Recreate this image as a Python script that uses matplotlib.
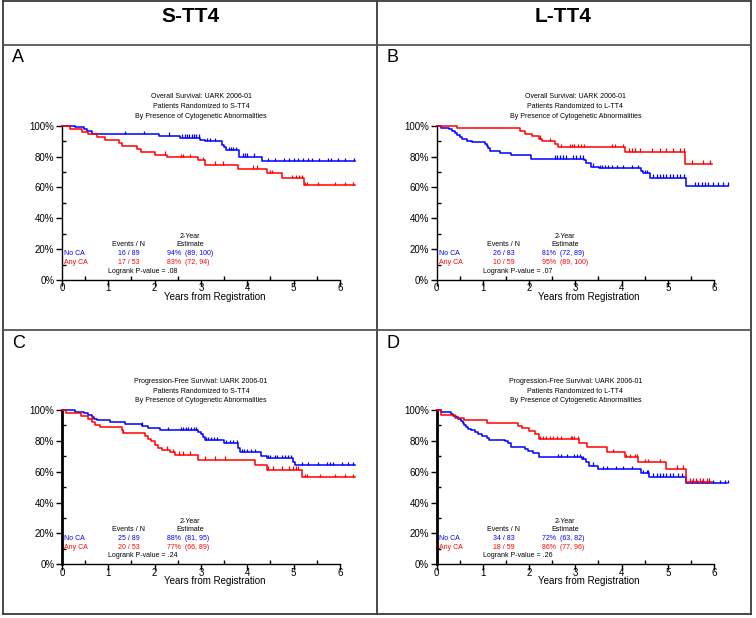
import numpy as np
import matplotlib
matplotlib.use("Agg")
import matplotlib.pyplot as plt
from matplotlib.lines import Line2D
from matplotlib.ticker import FixedLocator

plt.rcParams['font.family'] = ['Liberation Sans', 'DejaVu Sans']

W, H = 756, 618

# ---------------- data ----------------
column_titles = ["S-TT4", "L-TT4"]
panel_letters = ["A", "B", "C", "D"]
endpoint_titles = ["Overall Survival: UARK 2006-01", "Overall Survival: UARK 2006-01",
                   "Progression-Free Survival: UARK 2006-01", "Progression-Free Survival: UARK 2006-01"]
arm_titles = ["Patients Randomized to S-TT4", "Patients Randomized to L-TT4",
              "Patients Randomized to S-TT4", "Patients Randomized to L-TT4"]
group_names = ["No CA", "Any CA"]
events_n = [["16 / 89", "17 / 53"], ["26 / 83", "10 / 59"],
            ["25 / 89", "20 / 53"], ["34 / 83", "18 / 59"]]
two_year = [["94%  (89, 100)", "83%  (72, 94)"], ["81%  (72, 89)", "95%  (89, 100)"],
            ["88%  (81, 95)", "77%  (66, 89)"], ["72%  (63, 82)", "86%  (77, 96)"]]
logrank_p = [".08", ".07", ".24", ".26"]

# Panel A (OS, S-TT4)
a_noca_t = [0.29, 0.48, 0.55, 0.64, 2.10, 2.55, 2.98, 3.08, 3.45, 3.50, 3.55, 3.82, 4.31]
a_noca_s = [98.9, 97.8, 96.6, 94.5, 93.4, 92.2, 90.9, 89.8, 87.6, 86.0, 84.2, 80.0, 77.0]
a_noca_end = 6.33
a_noca_c = [1.36, 1.78, 2.30, 2.60, 2.65, 2.70, 2.75, 2.80, 2.85, 2.90, 2.95, 3.12, 3.20, 3.30,
            3.60, 3.65, 3.70, 3.75, 3.90, 3.95, 4.00, 4.15, 4.45, 4.60, 4.80, 4.90, 5.00, 5.10,
            5.20, 5.30, 5.40, 5.55, 5.75, 5.80, 5.95, 6.10, 6.30]
a_anyca_t = [0.17, 0.43, 0.57, 0.75, 0.93, 1.22, 1.29, 1.62, 1.70, 2.00, 2.26, 2.93, 3.09,
             3.80, 4.42, 4.74, 5.23]
a_anyca_s = [98.1, 96.2, 94.3, 92.5, 90.6, 88.7, 86.8, 84.9, 83.0, 81.1, 79.4, 77.5, 74.7,
             72.1, 69.2, 66.0, 61.4]
a_anyca_end = 6.33
a_anyca_c = [2.22, 2.57, 2.62, 2.76, 3.05, 3.30, 3.48, 4.13, 4.20, 4.49, 4.54, 4.96, 5.05, 5.12,
             5.17, 5.25, 5.28, 5.53, 5.90, 6.10, 6.29]

# Panel B (OS, L-TT4)
b_noca_t = [0.10, 0.27, 0.33, 0.40, 0.45, 0.50, 0.55, 0.65, 0.76, 1.05, 1.08, 1.12, 1.15, 1.38,
            1.60, 2.03, 3.19, 3.24, 3.33, 3.52, 4.43, 4.47, 4.61, 5.40]
b_noca_s = [98.8, 97.6, 96.4, 95.2, 94.0, 92.8, 91.6, 90.4, 89.2, 88.0, 86.7, 85.5, 83.4, 82.4,
            81.2, 78.7, 77.5, 75.8, 73.5, 72.4, 70.4, 69.2, 66.4, 61.0]
b_noca_end = 6.31
b_noca_c = [2.56, 2.60, 2.67, 2.74, 2.80, 2.95, 3.02, 3.10, 3.17, 3.39, 3.53, 3.57, 3.64, 3.71,
            3.79, 3.90, 4.04, 4.22, 4.36, 4.50, 4.55, 4.69, 4.76, 4.83, 4.90, 4.97, 5.04, 5.12,
            5.19, 5.26, 5.34, 5.59, 5.66, 5.73, 5.80, 5.87, 5.98, 6.09, 6.20, 6.31]
b_anyca_t = [0.43, 1.80, 1.90, 2.07, 2.22, 2.28, 2.55, 2.63, 4.07, 5.37]
b_anyca_s = [98.3, 96.6, 94.9, 93.2, 91.5, 89.8, 88.0, 86.1, 83.2, 75.5]
b_anyca_end = 5.95
b_anyca_c = [2.24, 2.45, 2.70, 2.88, 2.92, 2.96, 3.06, 3.12, 3.19, 3.79, 3.86, 4.04, 4.15, 4.22,
             4.29, 4.40, 4.65, 4.83, 4.97, 5.12, 5.26, 5.35, 5.52, 5.77, 5.91]

# Panel C (PFS, S-TT4)
c_noca_t = [0.28, 0.48, 0.57, 0.64, 0.70, 0.76, 1.04, 1.36, 1.73, 1.86, 2.12, 2.94, 3.00, 3.05,
            3.09, 3.50, 3.80, 3.84, 4.30, 4.43, 4.98, 5.02]
c_noca_s = [98.9, 97.8, 96.6, 95.5, 94.4, 93.3, 92.1, 91.0, 89.9, 88.4, 86.9, 85.5, 84.2, 82.5,
            80.4, 78.3, 75.5, 72.8, 70.5, 68.8, 66.6, 64.4]
c_noca_end = 6.33
c_noca_c = [1.73, 2.29, 2.57, 2.62, 2.68, 2.73, 2.79, 2.85, 2.90, 3.10, 3.15, 3.22, 3.29, 3.34,
            3.55, 3.62, 3.70, 3.77, 3.88, 3.92, 4.00, 4.09, 4.17, 4.45, 4.50, 4.60, 4.65, 4.74,
            4.81, 4.88, 4.94, 5.17, 5.32, 5.53, 5.71, 5.79, 5.86, 6.04, 6.18, 6.29]
c_anyca_t = [0.08, 0.42, 0.57, 0.65, 0.71, 0.82, 1.29, 1.32, 1.79, 1.86, 1.93, 2.00, 2.08, 2.15,
             2.33, 2.44, 2.94, 4.17, 4.42, 5.17]
c_anyca_s = [98.1, 96.2, 94.3, 92.4, 90.6, 89.0, 87.0, 85.1, 83.0, 81.2, 79.6, 77.5, 75.4, 74.3,
             72.6, 71.0, 67.8, 64.5, 61.2, 56.5]
c_anyca_end = 6.32
c_anyca_c = [0.64, 1.32, 2.26, 2.40, 2.52, 2.62, 2.76, 3.09, 3.30, 3.52, 4.45, 4.56, 4.74, 4.90,
             4.98, 5.06, 5.10, 5.24, 5.28, 5.57, 5.89, 6.10, 6.29]

# Panel D (PFS, L-TT4)
d_noca_t = [0.10, 0.30, 0.36, 0.42, 0.47, 0.52, 0.56, 0.60, 0.64, 0.68, 0.74, 0.82, 0.90, 0.98,
            1.08, 1.14, 1.48, 1.55, 1.60, 1.90, 1.98, 2.08, 2.22, 3.15, 3.22, 3.30, 3.50, 4.43,
            4.60, 5.40]
d_noca_s = [98.8, 97.6, 96.4, 95.2, 94.0, 92.8, 91.6, 90.4, 89.2, 88.0, 86.8, 85.6, 84.4, 83.2,
            82.0, 80.8, 79.6, 78.4, 76.0, 74.6, 73.3, 72.0, 69.6, 68.2, 66.2, 64.0, 61.6, 59.0,
            56.7, 52.7]
d_noca_end = 6.28
d_noca_c = [2.63, 2.70, 2.81, 2.96, 3.03, 3.10, 3.17, 3.39, 3.60, 3.68, 3.89, 4.04, 4.22, 4.47,
            4.54, 4.58, 4.69, 4.76, 4.83, 4.90, 4.97, 5.05, 5.12, 5.23, 5.30, 5.52, 5.63, 5.73,
            5.84, 5.98, 6.13, 6.24, 6.31]
d_anyca_t = [0.10, 0.40, 0.58, 1.08, 1.75, 1.85, 2.00, 2.12, 2.22, 3.08, 3.25, 3.68, 4.07, 4.35,
             4.97, 5.40]
d_anyca_s = [96.6, 94.9, 93.2, 91.5, 89.8, 88.1, 86.4, 84.7, 81.2, 78.5, 76.0, 72.7, 69.5, 66.2,
             62.0, 53.5]
d_anyca_end = 5.95
d_anyca_c = [2.24, 2.30, 2.37, 2.45, 2.52, 2.60, 2.70, 2.90, 2.93, 2.96, 3.06, 3.82, 4.10, 4.18,
             4.29, 4.33, 4.50, 4.58, 4.83, 5.19, 5.33, 5.48, 5.55, 5.62, 5.70, 5.77, 5.84, 5.90]

curves = [
    [(a_noca_t, a_noca_s, a_noca_end, a_noca_c), (a_anyca_t, a_anyca_s, a_anyca_end, a_anyca_c)],
    [(b_noca_t, b_noca_s, b_noca_end, b_noca_c), (b_anyca_t, b_anyca_s, b_anyca_end, b_anyca_c)],
    [(c_noca_t, c_noca_s, c_noca_end, c_noca_c), (c_anyca_t, c_anyca_s, c_anyca_end, c_anyca_c)],
    [(d_noca_t, d_noca_s, d_noca_end, d_noca_c), (d_anyca_t, d_anyca_s, d_anyca_end, d_anyca_c)],
]
colors = ["#0000ff", "#ff0000"]
x_ticks = [0, 1, 2, 3, 4, 5, 6]
y_ticks = [0, 20, 40, 60, 80, 100]

# ---------------- layout ----------------
fig = plt.figure(figsize=(W / 100, H / 100), dpi=100)
fig.patch.set_facecolor("white")


def fline(x0, y0, x1, y1, lw=1.3, color="#3a3a3a"):
    fig.add_artist(Line2D([x0 / W, x1 / W], [1 - y0 / H, 1 - y1 / H],
                          transform=fig.transFigure, color=color, lw=lw))


# frame grid
fline(3, 1, 751, 1)
fline(3, 614, 751, 614)
fline(3, 1, 3, 614)
fline(751, 1, 751, 614)
fline(377, 1, 377, 614)
fline(3, 45, 751, 45, color="#555555")
fline(3, 330, 751, 330, color="#555555")

fig.text(190 / W, 1 - 16 / H, column_titles[0], ha="center", va="center",
         fontsize=15, fontweight="bold")
fig.text(563 / W, 1 - 16 / H, column_titles[1], ha="center", va="center",
         fontsize=15, fontweight="bold")

label_pos = [(12, 58), (386, 58), (12, 343), (386, 343)]
for (lx, ly), letter in zip(label_pos, panel_letters):
    fig.text(lx / W, 1 - ly / H, letter, ha="left", va="center", fontsize=13)

# axes geometry (pixels): origin x, px per year, y of 100%, y of 0%
geo = [(62, 46.33, 125.7, 280.0), (436.7, 46.22, 125.7, 280.0),
       (62, 46.33, 410.0, 564.3), (436.7, 46.22, 410.0, 564.3)]
XMAX = 6.6
fs_small = 5.0

for i in range(4):
    x0, k, y100, y0 = geo[i]
    hpx = y0 - y100
    ax = fig.add_axes([x0 / W, 1 - y0 / H, XMAX * k / W, hpx / H])
    ax.set_xlim(0, XMAX)
    ax.set_ylim(0, 1)
    ax.patch.set_alpha(0)
    for s in ["top", "right"]:
        ax.spines[s].set_visible(False)
    ax.spines["bottom"].set_bounds(0, 6)
    ax.spines["left"].set_linewidth(2.0 if i >= 2 else 1.0)
    ax.spines["bottom"].set_linewidth(1.0)

    ax.xaxis.set_major_locator(FixedLocator(x_ticks))
    ax.xaxis.set_minor_locator(FixedLocator([t + 0.5 for t in x_ticks[:-1]]))
    ax.yaxis.set_major_locator(FixedLocator([v / 100 for v in y_ticks]))
    ax.yaxis.set_minor_locator(FixedLocator([v / 100 + 0.1 for v in y_ticks[:-1]]))
    ax.set_xticklabels([str(t) for t in x_ticks])
    ax.set_yticklabels([f"{v}%" for v in y_ticks])
    ax.tick_params(which="major", direction="out", length=4, width=1.0, labelsize=7)
    ax.tick_params(axis="x", which="major", pad=-1.5)
    ax.tick_params(axis="y", which="major", pad=1.5)
    ax.tick_params(which="minor", direction="in", length=3, width=1.0)

    ax.set_xlabel("Years from Registration", fontsize=7, labelpad=-1)

    for g in range(2):
        t, s, end, cens = curves[i][g]
        t = np.asarray(t)
        s = np.asarray(s) / 100.0
        xs = np.r_[0.0, t, end]
        ys = np.r_[1.0, s, s[-1]]
        ax.step(xs, ys, where="post", color=colors[g], lw=1.1, clip_on=False, zorder=3)
        cens = np.asarray(cens)
        idx = np.searchsorted(xs, cens, side="right") - 1
        cy = ys[idx]
        ax.vlines(cens, cy, cy + 0.022, color=colors[g], lw=0.9, clip_on=False, zorder=3)

    # titles
    title_lines = [endpoint_titles[i], arm_titles[i], "By Presence of Cytogenetic Abnormalities"]
    for j, txt in enumerate(title_lines):
        dy = [28.7, 18.9, 9.0][j]
        ax.text(3.0, 1 + dy / hpx, txt, ha="center", va="center", fontsize=fs_small,
                clip_on=False)

    # annotation table
    ev_dx, est_dx, yr_dx, lr_dx = 67.0, 105.0, 128.0, 46.0
    ax.text(yr_dx / k, 43.0 / hpx, "2-Year", ha="center", va="center", fontsize=fs_small)
    ax.text(yr_dx / k, 35.0 / hpx, "Estimate", ha="center", va="center", fontsize=fs_small)
    ax.text(ev_dx / k, 35.0 / hpx, "Events / N", ha="center", va="center", fontsize=fs_small)
    for g, dy in zip(range(2), [26.0, 17.0]):
        ax.text(2.3 / k, dy / hpx, group_names[g], ha="left", va="center",
                fontsize=fs_small, color=colors[g])
        ax.text(ev_dx / k, dy / hpx, events_n[i][g], ha="center", va="center",
                fontsize=fs_small, color=colors[g])
        ax.text(est_dx / k, dy / hpx, two_year[i][g], ha="left", va="center",
                fontsize=fs_small, color=colors[g])
    ax.text(lr_dx / k, 8.5 / hpx, f"Logrank P-value = {logrank_p[i]}", ha="left",
            va="center", fontsize=fs_small)

fig.savefig("out.png", dpi=100, facecolor="white")
